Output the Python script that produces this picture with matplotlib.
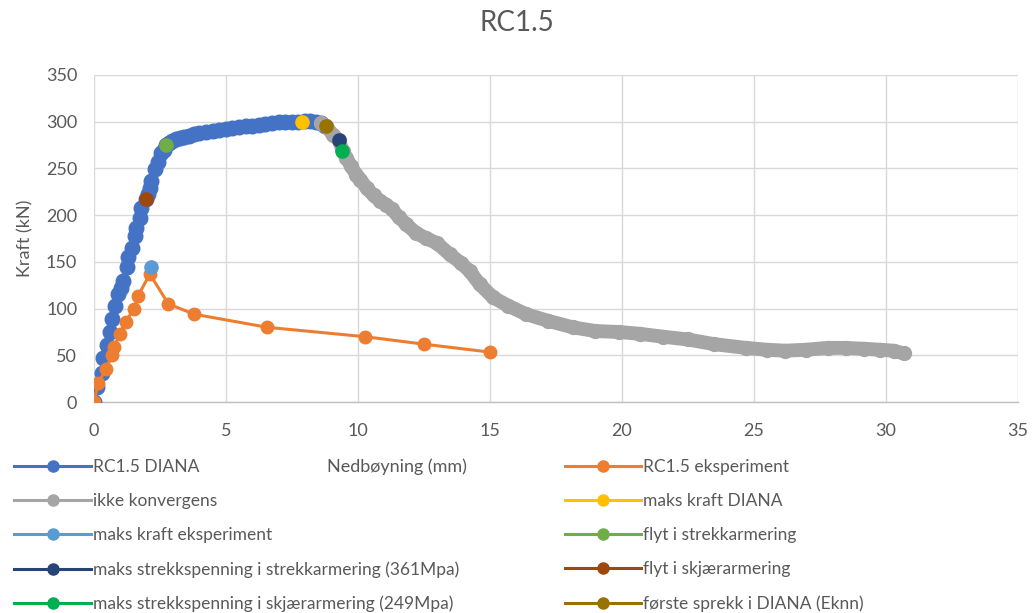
import matplotlib
matplotlib.use("Agg")
import matplotlib.pyplot as plt
from matplotlib.lines import Line2D

# RC1.5 DIANA (rising branch + plateau)
diana_x = [0.0, 0.1, 0.29, 0.35, 0.48, 0.6, 0.7, 0.8, 0.92, 1.02, 1.1, 1.24, 1.3, 1.43,
           1.55, 1.6, 1.74, 1.8, 1.97, 2.05, 2.12, 2.18, 2.31, 2.43, 2.56, 2.65, 2.75,
           2.85, 2.95, 3.1, 3.25, 3.4, 3.6, 3.8, 4.0, 4.25, 4.5, 4.75, 5.0, 5.25, 5.5,
           5.75, 6.0, 6.25, 6.5, 6.75, 7.0, 7.25, 7.5, 7.75, 8.0, 8.2, 8.4, 8.6, 8.75]
diana_y = [0, 16, 31, 47, 61, 75, 89, 103, 116, 122, 130, 144, 155, 165,
           178, 186, 197, 208, 217, 223, 229, 236, 249, 257, 266, 270, 275,
           277, 279, 281, 282, 284, 285, 286.5, 288, 289, 290, 291, 292, 293, 294,
           295, 295.5, 296.5, 297, 298, 299, 299.5, 300, 300, 300.5, 300.5, 299.5, 298, 295]

# RC1.5 eksperiment
eksp_x = [0.0, 0.16, 0.45, 0.67, 0.76, 0.98, 1.21, 1.52, 1.68, 2.12, 2.82, 3.8, 6.57, 10.26, 12.5, 15.0]
eksp_y = [0, 20, 35, 50, 59, 73, 86, 100, 114, 137, 105, 94, 80, 70, 62, 53.5]

# ikke konvergens
konv_x = [8.6, 8.8, 9.05, 9.28, 9.44, 9.57, 9.75, 9.95, 10.1, 10.33, 10.6, 10.85, 11.08,
          11.3, 11.55, 11.84, 12.2, 12.6, 13.0, 13.48, 13.9, 14.24, 14.62, 15.12, 15.7,
          16.38, 17.2, 18.14, 19.0, 19.9, 20.7, 21.55, 22.5, 23.5, 24.7, 25.5, 26.2,
          27.0, 27.8, 28.5, 29.2, 29.8, 30.3, 30.7]
konv_y = [298, 295, 286, 280, 268, 261, 252, 243, 238, 229, 221, 215, 211,
          206, 198, 190, 181, 175, 170, 158, 149, 140, 126, 112, 103,
          94, 87, 80, 76, 75, 73, 70, 67, 62, 58, 56, 55,
          56, 58, 58, 57, 56, 55, 52]

# single points
points = [
    ("maks kraft DIANA", 7.9, 300, "#FFC000"),
    ("maks kraft eksperiment", 2.18, 145, "#5B9BD5"),
    ("flyt i strekkarmering", 2.75, 275, "#70AD47"),
    ("maks strekkspenning i strekkarmering (361Mpa)", 9.28, 280, "#264478"),
    ("flyt i skjærarmering", 1.97, 217, "#9E480E"),
    ("maks strekkspenning i skjærarmering (249Mpa)", 9.41, 268, "#00B050"),
    ("første sprekk i DIANA (Eknn)", 8.8, 295, "#997300"),
]

c_diana = "#4472C4"
c_eksp = "#ED7D31"
c_konv = "#A5A5A5"
text_c = "#595959"

plt.rcParams["font.family"] = ["Lato", "DejaVu Sans"]

fig = plt.figure(figsize=(10.32, 6.13), dpi=100)
ax = fig.add_axes([0.091, 0.344, 0.895, 0.534])

ax.plot(diana_x, diana_y, color=c_diana, lw=2.2, marker="o", ms=10.5, zorder=3)
ax.plot(eksp_x, eksp_y, color=c_eksp, lw=2.2, marker="o", ms=9, zorder=4)
ax.plot(konv_x, konv_y, color=c_konv, lw=10, solid_capstyle="round",
        solid_joinstyle="round", marker="o", ms=10, zorder=5)
for name, px, py, col in points:
    ax.plot([px], [py], "o", color=col, ms=9.5, zorder=6)

ax.set_xlim(0, 35)
ax.set_ylim(0, 350)
ax.set_xticks(range(0, 36, 5))
ax.set_yticks(range(0, 351, 50))
ax.grid(True, color="#D9D9D9", lw=1.0)
ax.set_axisbelow(True)
for s in ["top", "right", "left"]:
    ax.spines[s].set_visible(False)
ax.spines["bottom"].set_color("#BFBFBF")
ax.spines["bottom"].set_linewidth(1.0)
ax.tick_params(length=0, labelsize=13, labelcolor=text_c)
ax.tick_params(axis="x", pad=15)
ax.tick_params(axis="y", pad=12)

ax.set_ylabel("Kraft (kN)", fontsize=13, color=text_c, labelpad=9)
fig.text(0.385, 1 - 467 / 613, "Nedbøyning (mm)", fontsize=13, color=text_c,
         ha="center", va="center")
fig.text(0.501, 1 - 23 / 613, "RC1.5", fontsize=20, color=text_c, ha="center", va="center")

# legends
def handle(col):
    return Line2D([0], [0], color=col, lw=2.2, marker="o", ms=8)

col1 = [(c_diana, "RC1.5 DIANA"), (c_konv, "ikke konvergens"),
        ("#5B9BD5", "maks kraft eksperiment"),
        ("#264478", "maks strekkspenning i strekkarmering (361Mpa)"),
        ("#00B050", "maks strekkspenning i skjærarmering (249Mpa)")]
col2 = [(c_eksp, "RC1.5 eksperiment"), ("#FFC000", "maks kraft DIANA"),
        ("#70AD47", "flyt i strekkarmering"), ("#9E480E", "flyt i skjærarmering"),
        ("#997300", "første sprekk i DIANA (Eknn)")]

leg_kw = dict(frameon=False, fontsize=12.5, handlelength=4.4, handletextpad=0.15,
              labelspacing=1.04, borderpad=0, borderaxespad=0, loc="upper left",
              labelcolor=text_c)
l1 = fig.legend([handle(c) for c, _ in col1], [t for _, t in col1],
                bbox_to_anchor=(0.014, 1 - 459 / 613), **leg_kw)
l2 = fig.legend([handle(c) for c, _ in col2], [t for _, t in col2],
                bbox_to_anchor=(0.547, 1 - 459 / 613), **leg_kw)

fig.savefig("out.png", dpi=100)
